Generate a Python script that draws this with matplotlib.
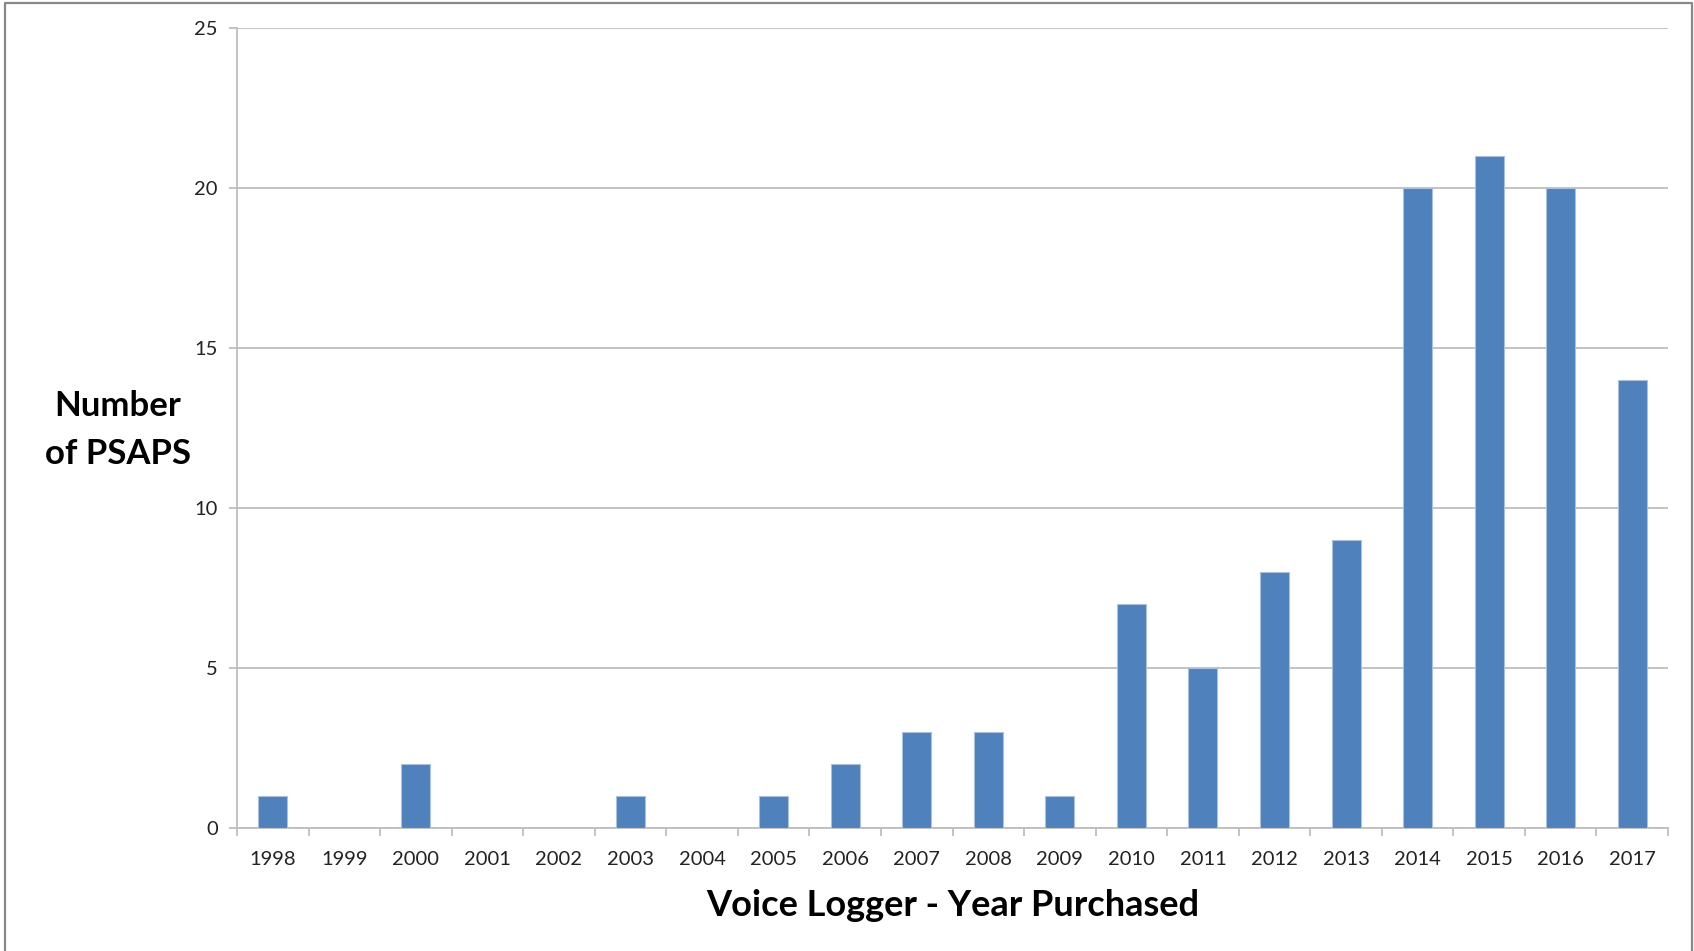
import matplotlib
matplotlib.use("Agg")
import matplotlib.pyplot as plt
from matplotlib.lines import Line2D
import numpy as np

years = ["1998", "1999", "2000", "2001", "2002", "2003", "2004", "2005", "2006", "2007",
         "2008", "2009", "2010", "2011", "2012", "2013", "2014", "2015", "2016", "2017"]
counts = [1, 0, 2, 0, 0, 1, 0, 1, 2, 3, 3, 1, 7, 5, 8, 9, 20, 21, 20, 14]
y_ticks = [0, 5, 10, 15, 20, 25]
x_label = "Voice Logger - Year Purchased"
y_label = "Number\nof PSAPS"

plt.rcParams['font.family'] = ['Lato', 'DejaVu Sans']

W, H = 1694, 951
fig = plt.figure(figsize=(W / 100, H / 100), dpi=100)
fig.patch.set_facecolor("white")

L, R, T, B = 237, 1668, 28, 828
ax = fig.add_axes([L / W, 1 - B / H, (R - L) / W, (B - T) / H])

grid_c = "#BEBEBE"
x = np.arange(len(years))
ax.bar(x, counts, width=0.405, color="#4F81BD", edgecolor="#A9C0DE", linewidth=0.8, zorder=3)

ax.set_xlim(-0.5, len(years) - 0.5)
ax.set_ylim(0, 25)
ax.set_yticks(y_ticks)
ax.yaxis.grid(True, color=grid_c, linewidth=1.3, zorder=0)
ax.set_axisbelow(True)

for s in ["top", "right"]:
    ax.spines[s].set_visible(False)
for s in ["left", "bottom"]:
    ax.spines[s].set_color(grid_c)
    ax.spines[s].set_linewidth(1.3)

ax.set_xticks(x)
ax.set_xticklabels(years)
ax.set_xticks(np.arange(-0.5, len(years)), minor=True)
ax.tick_params(axis="x", which="major", length=0, pad=16.5, labelsize=14.5, labelcolor="#222222")
ax.tick_params(axis="x", which="minor", length=5.8, width=1.3, color=grid_c)
ax.tick_params(axis="y", length=5.8, width=1.3, color=grid_c, pad=8, labelsize=14.5, labelcolor="#222222")

# x label
fig.text((L + R) / 2 / W, 1 - 905 / H, x_label, ha="center", va="center",
         fontsize=26, fontweight="bold", color="black")
# y label
fig.text(118 / W, 1 - 430 / H, y_label, ha="center", va="center",
         fontsize=25, fontweight="bold", color="black", linespacing=1.6)

# outer border
fig.add_artist(Line2D([5 / W, 5 / W, 1692 / W, 1692 / W], [0, 1 - 3 / H, 1 - 3 / H, 0],
                      transform=fig.transFigure, color="#888888", linewidth=1.6))

fig.savefig("out.png", dpi=100, facecolor="white")
